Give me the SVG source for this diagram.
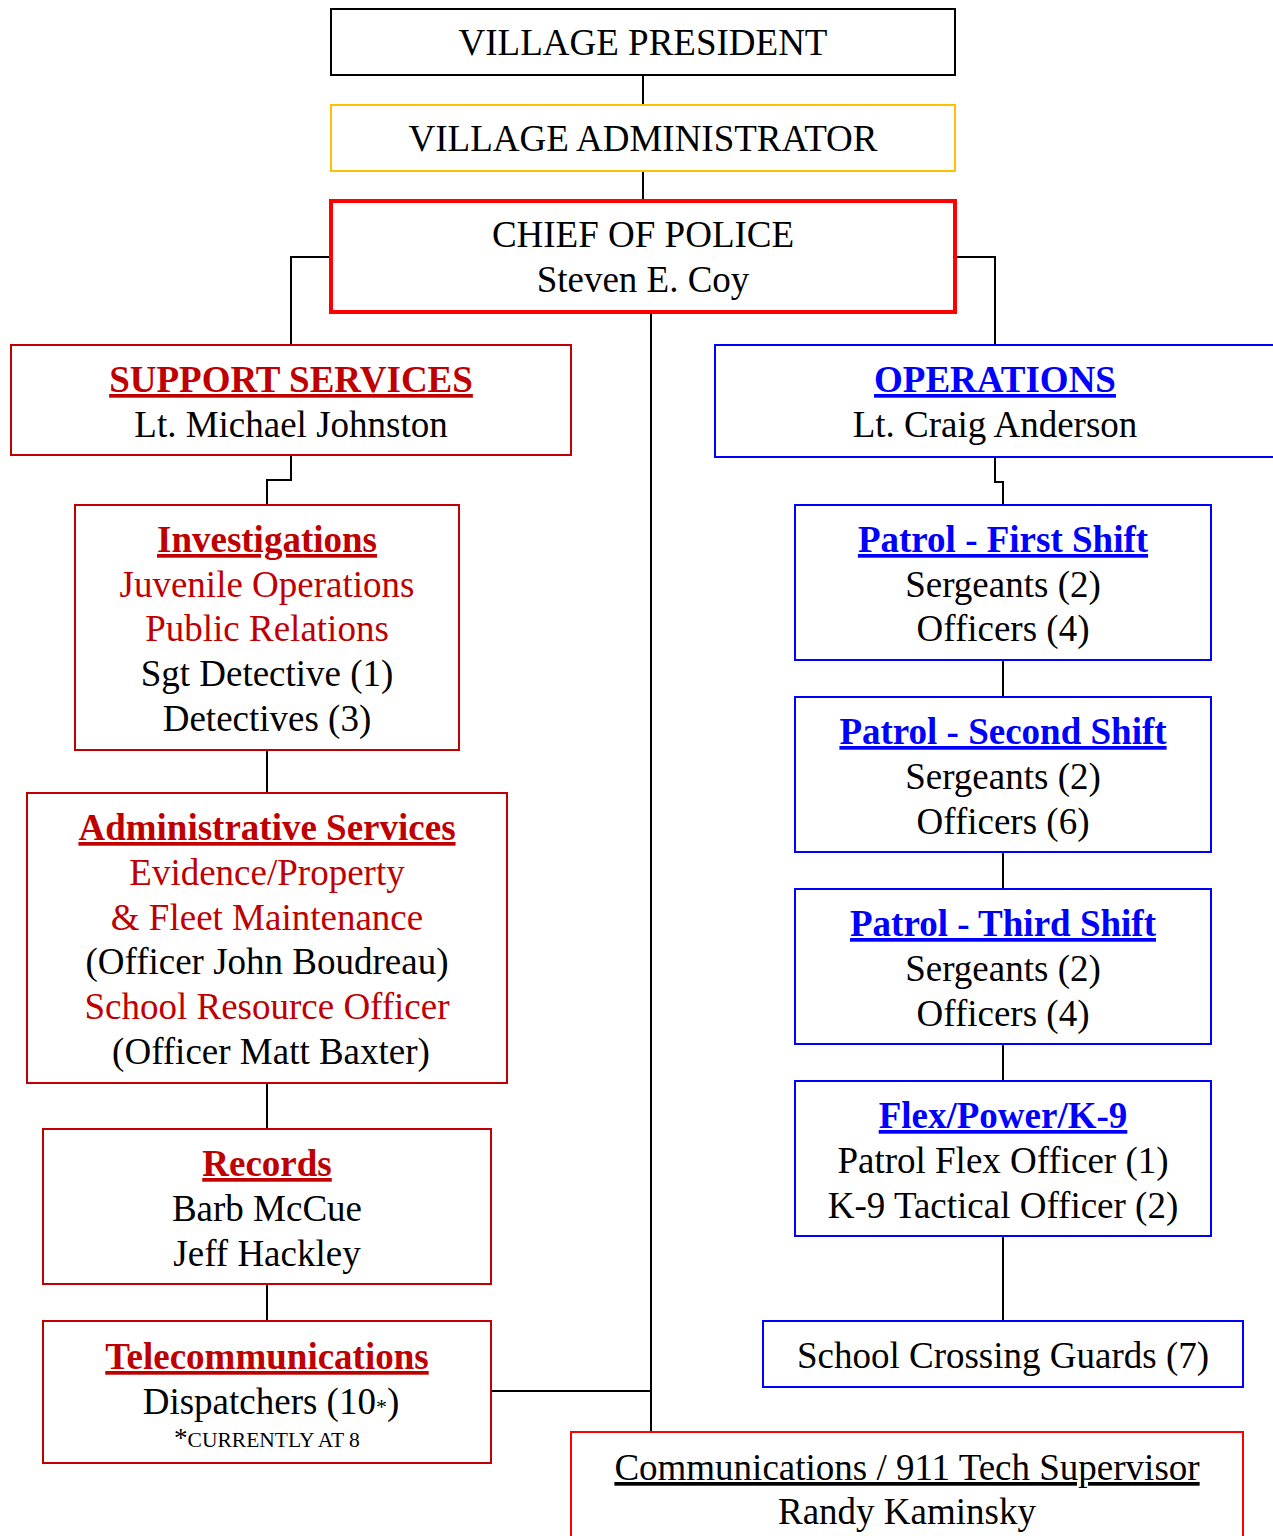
<svg xmlns="http://www.w3.org/2000/svg" width="1273" height="1536" viewBox="0 0 1273 1536">
<style>
text{font-family:"Liberation Serif","Times New Roman",serif;font-size:37px;text-anchor:middle;fill:#000}
.h{font-weight:bold;text-decoration:underline}
.r{fill:#C00000}
.b{fill:#0000FF}
.sm{font-size:21.5px}
.box{fill:#fff;stroke-width:2}
.sr{stroke:#C00000}
.sb{stroke:#0000FF}
.conn{fill:none;stroke:#000;stroke-width:2}
</style>
<rect width="1273" height="1536" fill="#fff"/>
<g id="connectors" class="conn">
<path d="M643 75V105M643 171V201"/>
<path d="M331 257H291V345"/>
<path d="M955 257H995V345"/>
<path d="M651 312V1432"/>
<path d="M491 1391H651"/>
<path d="M291 455V480H267V505"/>
<path d="M267 750V793M267 1083V1129M267 1284V1321"/>
<path d="M995 457V482H1003V505"/>
<path d="M1003 660V697M1003 852V889M1003 1044V1081M1003 1236V1321"/>
</g>
<g id="president">
<rect class="box" x="331" y="9" width="624" height="66" stroke="#000"/>
<text x="643" y="55">VILLAGE PRESIDENT</text>
</g>
<g id="administrator">
<rect class="box" x="331" y="105" width="624" height="66" stroke="#FFC000"/>
<text x="643" y="151">VILLAGE ADMINISTRATOR</text>
</g>
<g id="chief">
<rect x="331" y="201" width="624" height="111" fill="#fff" stroke="#FF0000" stroke-width="4"/>
<text x="643" y="247">CHIEF OF POLICE</text>
<text x="643" y="292">Steven E. Coy</text>
</g>
<g id="support">
<rect class="box sr" x="11" y="345" width="560" height="110"/>
<text class="h r" x="291" y="392">SUPPORT SERVICES</text>
<text x="291" y="437">Lt. Michael Johnston</text>
</g>
<g id="operations">
<rect class="box sb" x="715" y="345" width="570" height="112"/>
<text class="h b" x="995" y="392">OPERATIONS</text>
<text x="995" y="437">Lt. Craig Anderson</text>
</g>
<g id="investigations">
<rect class="box sr" x="75" y="505" width="384" height="245"/>
<text class="h r" x="267" y="552">Investigations</text>
<text class="r" x="267" y="597">Juvenile Operations</text>
<text class="r" x="267" y="641">Public Relations</text>
<text x="267" y="686">Sgt Detective (1)</text>
<text x="267" y="731">Detectives (3)</text>
</g>
<g id="admin-services">
<rect class="box sr" x="27" y="793" width="480" height="290"/>
<text class="h r" x="267" y="840">Administrative Services</text>
<text class="r" x="267" y="885">Evidence/Property</text>
<text class="r" x="267" y="930">&amp; Fleet Maintenance</text>
<text x="267" y="974">(Officer John Boudreau)</text>
<text class="r" x="267" y="1019">School Resource Officer</text>
<text x="271" y="1064">(Officer Matt Baxter)</text>
</g>
<g id="records">
<rect class="box sr" x="43" y="1129" width="448" height="155"/>
<text class="h r" x="267" y="1176">Records</text>
<text x="267" y="1221">Barb McCue</text>
<text x="267" y="1266">Jeff Hackley</text>
</g>
<g id="telecom">
<rect class="box sr" x="43" y="1321" width="448" height="142"/>
<text class="h r" x="267" y="1369">Telecommunications</text>
<text x="271" y="1414">Dispatchers (10<tspan font-size="22">*</tspan>)</text>
<text class="sm" x="267" y="1447"><tspan font-size="27">*</tspan>CURRENTLY AT 8</text>
</g>
<g id="patrol-first">
<rect class="box sb" x="795" y="505" width="416" height="155"/>
<text class="h b" x="1003" y="552">Patrol - First Shift</text>
<text x="1003" y="597">Sergeants (2)</text>
<text x="1003" y="641">Officers (4)</text>
</g>
<g id="patrol-second">
<rect class="box sb" x="795" y="697" width="416" height="155"/>
<text class="h b" x="1003" y="744">Patrol - Second Shift</text>
<text x="1003" y="789">Sergeants (2)</text>
<text x="1003" y="834">Officers (6)</text>
</g>
<g id="patrol-third">
<rect class="box sb" x="795" y="889" width="416" height="155"/>
<text class="h b" x="1003" y="936">Patrol - Third Shift</text>
<text x="1003" y="981">Sergeants (2)</text>
<text x="1003" y="1026">Officers (4)</text>
</g>
<g id="flex">
<rect class="box sb" x="795" y="1081" width="416" height="155"/>
<text class="h b" x="1003" y="1128">Flex/Power/K-9</text>
<text x="1003" y="1173">Patrol Flex Officer (1)</text>
<text x="1003" y="1218">K-9 Tactical Officer (2)</text>
</g>
<g id="crossing-guards">
<rect class="box sb" x="763" y="1321" width="480" height="66"/>
<text x="1003" y="1368">School Crossing Guards (7)</text>
</g>
<g id="communications">
<rect class="box" x="571" y="1432" width="672" height="120" stroke="#FF0000"/>
<text x="907" y="1480" text-decoration="underline">Communications / 911 Tech Supervisor</text>
<text x="907" y="1524">Randy Kaminsky</text>
</g>
</svg>
